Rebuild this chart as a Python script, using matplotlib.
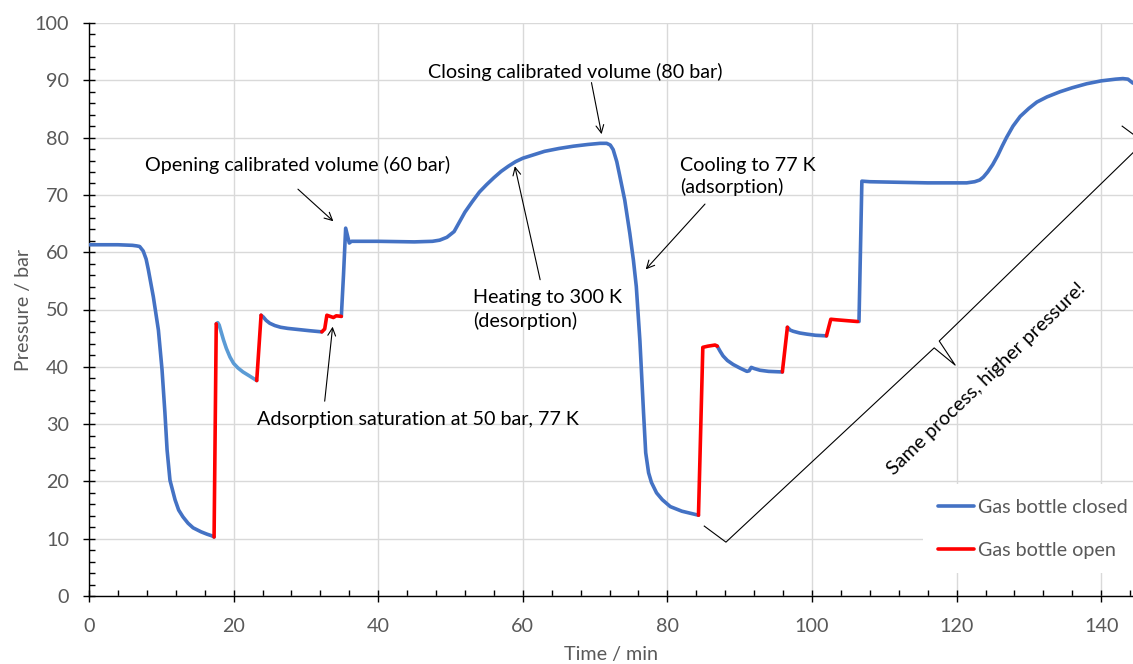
import numpy as np
import matplotlib
matplotlib.use("Agg")
import matplotlib.pyplot as plt
from matplotlib.ticker import MultipleLocator

plt.rcParams['font.family'] = ['Lato', 'DejaVu Sans']

# gas bottle closed (blue), segments separated by NaN
closed_t = [0, 2, 4, 6, 6.6, 7.0, 7.5, 7.9, 8.2, 8.9, 9.6, 10.1, 10.5, 10.8, 11.2, 11.9, 12.4, 13.0, 13.7, 14.4,
            15.5, 16.3, 17.0, 17.3, np.nan,
            23.8, 24.1, 24.5, 25.0, 25.7, 26.5, 27.5, 29.0, 30.5, 32.2, np.nan,
            34.9, 35.2, 35.5, 36.0, 36.3, 37, 40, 45, 47.5, 48.5, 49.5, 50.5, 51.2, 52, 53, 54, 55, 56, 57, 58,
            59, 60, 61.5, 63, 65, 67, 69, 70.7, 71.6, 72.1, 72.5, 73.0, 73.4, 74.1, 74.8, 75.3, 75.7, 76.2,
            76.7, 77.0, 77.4, 77.8, 78.5, 79.3, 80.4, 82, 84.3, np.nan,
            86.9, 87.3, 87.7, 88.3, 89.1, 90.0, 91.0, 91.3, 91.6, 92.0, 92.8, 94.0, 95.9, np.nan,
            96.6, 97.0, 97.4, 98.3, 99.3, 100.5, 102.0, np.nan,
            106.5, 106.9, 108, 112, 116, 121.4, 122.5, 123.2, 123.7, 124.3, 125.0, 125.7, 126.3, 126.9, 127.8,
            128.8, 130.0, 131.1, 132.5, 134.3, 136.0, 138.0, 140.0, 142.0, 143.0, 143.7, 144.4]
closed_p = [61.3, 61.3, 61.3, 61.2, 61.1, 61.0, 60.2, 58.8, 57.0, 52.2, 46.4, 39.5, 32.0, 25.5, 20.2, 16.8, 15.0, 13.8, 12.7, 11.9,
            11.2, 10.8, 10.5, 10.3, np.nan,
            49.0, 48.7, 48.1, 47.6, 47.2, 46.9, 46.7, 46.5, 46.3, 46.1, np.nan,
            48.8, 56.0, 64.2, 61.6, 61.9, 61.9, 61.9, 61.8, 61.9, 62.1, 62.6, 63.6, 65.2, 67.0, 68.8, 70.5, 71.8, 73.0, 74.1, 75.0,
            75.8, 76.4, 77.0, 77.6, 78.1, 78.5, 78.8, 79.0, 79.0, 78.7, 77.9, 75.8, 73.4, 69.1, 63.3, 58.6, 54.0, 44.5,
            32.0, 25.0, 21.5, 19.8, 18.0, 16.8, 15.6, 14.8, 14.1, np.nan,
            43.6, 42.7, 41.9, 41.1, 40.4, 39.8, 39.2, 39.3, 39.9, 39.7, 39.4, 39.2, 39.1, np.nan,
            46.9, 46.4, 46.2, 45.9, 45.7, 45.5, 45.4, np.nan,
            47.9, 72.4, 72.3, 72.2, 72.1, 72.1, 72.3, 72.6, 73.1, 74.0, 75.3, 76.9, 78.5, 80.0, 82.0,
            83.7, 85.1, 86.2, 87.1, 88.0, 88.7, 89.4, 89.9, 90.2, 90.3, 90.2, 89.5]

# gas bottle open (red)
open_t = [17.3, 17.6, np.nan, 23.2, 23.8, np.nan, 32.2, 32.6, 32.9, 33.8, 34.2, 34.9, np.nan,
          84.3, 84.9, 85.6, 86.6, 86.9, np.nan, 95.9, 96.6, np.nan, 102.0, 102.6, 103.4, 106.3]
open_p = [10.3, 47.5, np.nan, 37.6, 49.0, np.nan, 46.1, 46.6, 49.0, 48.6, 48.9, 48.8, np.nan,
          14.1, 43.4, 43.6, 43.8, 43.6, np.nan, 39.1, 46.9, np.nan, 45.4, 48.3, 48.2, 47.9]

# light blue part after the first refill
relax_t = [17.6, 17.8, 18.0, 18.3, 18.6, 19.0, 19.5, 20.0, 20.6, 21.3, 22.2, 23.2]
relax_p = [47.5, 47.7, 47.3, 46.0, 44.7, 43.2, 41.7, 40.6, 39.8, 39.1, 38.4, 37.6]

gray = '#595959'
fs = 14.2

fig = plt.figure(figsize=(11.33, 6.64), dpi=100)
ax = fig.add_axes([89 / 1133, 68 / 664, 1044 / 1133, 573 / 664])

ax.plot(closed_t, closed_p, color='#4472C4', lw=2.6, solid_capstyle='round', solid_joinstyle='round',
        label='Gas bottle closed', zorder=3)
ax.plot(relax_t, relax_p, color='#5B9BD5', lw=2.6, solid_capstyle='round', solid_joinstyle='round', zorder=3)
ax.plot(open_t, open_p, color='#FF0000', lw=2.6, solid_capstyle='round', solid_joinstyle='round',
        label='Gas bottle open', zorder=4)

ax.set_xlim(0, 144.4)
ax.set_ylim(0, 100)
ax.xaxis.set_major_locator(MultipleLocator(20))
ax.xaxis.set_minor_locator(MultipleLocator(4))
ax.yaxis.set_major_locator(MultipleLocator(10))
ax.yaxis.set_minor_locator(MultipleLocator(2))
ax.grid(True, which='major', color='#D9D9D9', lw=1)
ax.set_axisbelow(True)
ax.tick_params(which='major', direction='inout', length=9, width=1, color='black',
               labelsize=fs, labelcolor=gray)
ax.tick_params(which='minor', direction='in', length=4.5, width=1, color='black')
ax.tick_params(axis='x', pad=11)
ax.tick_params(axis='y', pad=10)
for s in ['top', 'right']:
    ax.spines[s].set_visible(False)
for s in ['left', 'bottom']:
    ax.spines[s].set_color('black')
    ax.spines[s].set_linewidth(1)

ax.set_xlabel('Time / min', fontsize=fs, color=gray, labelpad=8)
ax.set_ylabel('Pressure / bar', fontsize=fs, color=gray, labelpad=2)

arrow = dict(arrowstyle='->', color='black', lw=0.8, shrinkA=0, shrinkB=0, mutation_scale=14)
ax.text(67.2, 91.4, 'Closing calibrated volume (80 bar)', fontsize=fs, ha='center', va='center')
ax.annotate('', xy=(70.9, 80.6), xytext=(69.5, 89.6), arrowprops=arrow)
ax.text(28.8, 75.2, 'Opening calibrated volume (60 bar)', fontsize=fs, ha='center', va='center')
ax.annotate('', xy=(33.8, 65.4), xytext=(28.9, 71.0), arrowprops=arrow)
ax.text(53.1, 50.0, 'Heating to 300 K\n(desorption)', fontsize=fs, ha='left', va='center', linespacing=1.4)
ax.annotate('', xy=(58.9, 75.0), xytext=(62.4, 55.2), arrowprops=arrow)
ax.text(81.7, 73.2, 'Cooling to 77 K\n(adsorption)', fontsize=fs, ha='left', va='center', linespacing=1.25)
ax.annotate('', xy=(77.0, 57.0), xytext=(85.2, 68.4), arrowprops=arrow)
ax.text(45.5, 30.8, 'Adsorption saturation at 50 bar, 77 K', fontsize=fs, ha='center', va='center')
ax.annotate('', xy=(33.7, 47.0), xytext=(32.6, 34.0), arrowprops=arrow)

# curly brace
brace_t = [85.1, 88.1, 116.9, 119.8, 117.6, 145.9, 142.9]
brace_p = [12.2, 9.4, 43.3, 40.3, 44.5, 79.2, 82.0]
ax.plot(brace_t, brace_p, color='black', lw=0.8, zorder=5)
ax.text(124.1, 37.9, 'Same process, higher pressure!', fontsize=fs, rotation=44,
        rotation_mode='anchor', ha='center', va='center')

leg = ax.legend(loc='upper left', bbox_to_anchor=(0.799, 0.195), fontsize=fs, frameon=True,
                fancybox=False, handlelength=1.85, handletextpad=0.2, labelspacing=1.3,
                borderpad=0.75, borderaxespad=0)
leg.get_frame().set_facecolor('white')
leg.get_frame().set_edgecolor('none')
leg.get_frame().set_alpha(1)
leg.set_zorder(6)
for t in leg.get_texts():
    t.set_color(gray)

fig.savefig('out.png', dpi=100)
